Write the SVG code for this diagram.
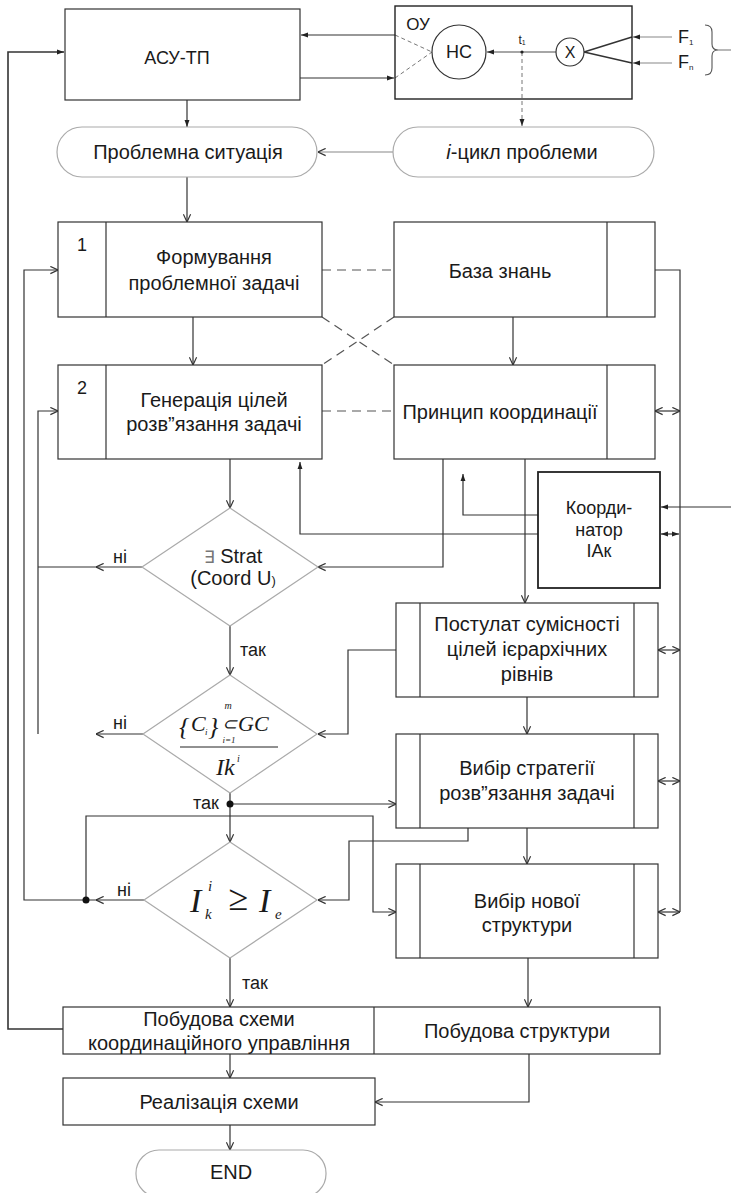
<svg xmlns="http://www.w3.org/2000/svg" width="731" height="1193" viewBox="0 0 731 1193">
<defs>
<style>
.bx{fill:#fff;stroke:#333;stroke-width:1.2}
.bk{fill:#fff;stroke:#222;stroke-width:1.8}
.gr{fill:#fff;stroke:#aaa;stroke-width:1.2}
.dv{stroke:#333;stroke-width:1.2}
.t{font-family:"Liberation Sans",Arial,sans-serif;font-size:20px;fill:#1a1a1a;text-anchor:middle}
.s{font-size:18px}
.m{font-family:"Liberation Serif","Times New Roman",serif;font-style:italic;fill:#1a1a1a}
.c{fill:none;stroke:#333;stroke-width:1.2}
.o{marker-end:url(#ao)}
.f{marker-end:url(#af)}
.dd{fill:none;stroke:#555;stroke-width:1.2;stroke-dasharray:9 6}
.ds{fill:none;stroke:#777;stroke-width:1;stroke-dasharray:4 3}
</style>
<marker id="ao" viewBox="0 0 10 10" refX="9.5" refY="5" markerWidth="9" markerHeight="9" markerUnits="userSpaceOnUse" orient="auto-start-reverse"><path d="M1,1 L9.5,5 L1,9" fill="none" stroke="#333" stroke-width="1.3"/></marker>
<marker id="af" viewBox="0 0 10 10" refX="10" refY="5" markerWidth="7" markerHeight="7" markerUnits="userSpaceOnUse" orient="auto-start-reverse"><path d="M0,1.5 L10,5 L0,8.5 z" fill="#222"/></marker>
</defs>
<rect width="731" height="1193" fill="#fff"/>

<g id="connectors">
<path class="c f" d="M395,35 H301"/>
<path class="c f" d="M300,78 H394"/>
<path class="ds" d="M395,35 L432,52 M395,78 L432,52"/>
<path class="c f" style="stroke:#888;stroke-width:1.6" d="M556,52 H487"/>
<path class="ds f" d="M522,52 V126"/>
<path class="c" style="stroke-width:1.5" d="M584,52 L632,37 M584,52 L632,63"/>
<path class="c f" style="stroke:#888" d="M672,37 H633"/>
<path class="c f" style="stroke:#888" d="M672,63 H633"/>
<path class="c" style="stroke:#888" d="M718,50 H731"/>
<path class="c f" d="M187,100 V127"/>
<path class="c f" style="stroke-width:1.6" d="M63,1029 H8 V52 H64"/>
<path class="c o" style="stroke:#888" d="M393,152 H318"/>
<path class="c o" d="M187,177 V222"/>
<path class="dd" d="M322,270 H394"/>
<path class="dd" d="M322,411 H394"/>
<path class="dd" d="M322,317 L394,365 M394,317 L322,365"/>
<path class="c o" d="M193,317 V365"/>
<path class="c o" d="M513,317 V365"/>
<path class="c" d="M655,270 H680 V912"/>
<path class="c o" style="marker-start:url(#ao)" d="M655,411 H680"/>
<path class="c o" style="marker-start:url(#ao)" d="M658,650 H680"/>
<path class="c o" style="marker-start:url(#ao)" d="M658,781 H680"/>
<path class="c o" style="marker-start:url(#ao)" d="M658,912 H680"/>
<path class="c f" d="M731,507 H661"/>
<path class="c f" style="marker-start:url(#af)" d="M661,534 H679"/>
<path class="c f" d="M538,515 H463 V474"/>
<path class="c f" d="M538,534 H300 V462"/>
<path class="c o" d="M443,459 V567 H318"/>
<path class="c o" d="M525,459 V603"/>
<path class="c o" d="M230,459 V508"/>
<path class="c o" d="M142,567 H96"/>
<path class="c" d="M97,567 H38"/>
<path class="c o" d="M143,734 H96"/>
<path class="c o" d="M38,734 V411 H58"/>
<path class="c o" d="M230,626 V675"/>
<path class="c o" d="M396,650 H348 V734 H318"/>
<path class="c o" d="M230,793 V842"/>
<path class="c o" d="M230,804 H396"/>
<path class="c o" d="M527,697 V734"/>
<path class="c o" d="M468,828 V841 H349 V900 H318"/>
<path class="c o" d="M527,828 V864"/>
<path class="c o" d="M144,900 H96"/>
<path class="c o" d="M97,900 H24 V270 H58"/>
<path class="c o" d="M86,900 V816 H373 V912 H396"/>
<circle cx="230" cy="804" r="3.5" fill="#111"/>
<circle cx="86" cy="900" r="3.5" fill="#111"/>
<path class="c o" d="M230,958 V1007"/>
<path class="c o" d="M528,958 V1007"/>
<path class="c o" d="M230,1054 V1078"/>
<path class="c o" d="M529,1054 V1102 H375"/>
<path class="c o" d="M230,1125 V1150"/>
</g>

<g id="asu">
<rect class="bx" x="65" y="9" width="235" height="91"/>
<text class="t s" x="177" y="64">АСУ-ТП</text>
</g>

<g id="ou">
<rect class="bk" style="stroke-width:1.4;fill:none" x="395" y="6" width="237" height="93"/>
<text class="t" x="418" y="30" style="font-size:17px">ОУ</text>
<circle cx="459" cy="52" r="27" fill="#fff" stroke="#333" stroke-width="1.2"/>
<text class="t s" x="459" y="58">НС</text>
<circle cx="570" cy="52" r="14" fill="#fff" stroke="#333" stroke-width="1.2"/>
<text class="t" x="570" y="58" style="font-size:16px">X</text>
<circle cx="522" cy="52" r="1.6" fill="#222"/>
<text class="t" x="522" y="44" style="font-size:12px">t<tspan font-size="7" dy="1">1</tspan></text>
</g>

<g id="inputs">
<text class="t s" x="678" y="43" style="text-anchor:start">F<tspan font-size="8" dy="2">1</tspan></text>
<text class="t s" x="678" y="68" style="text-anchor:start">F<tspan font-size="8" dy="2">n</tspan></text>
<path d="M705,25 Q712,25 712,32 L712,44 Q712,50 718,50 Q712,50 712,56 L712,68 Q712,75 705,75" fill="none" stroke="#555" stroke-width="1.1"/>
</g>

<g id="situation">
<rect class="gr" x="57" y="127" width="260" height="50" rx="25"/>
<text class="t" x="188" y="159">Проблемна ситуація</text>
</g>

<g id="icycle">
<rect class="gr" x="393" y="127" width="261" height="50" rx="25"/>
<text class="t" x="522" y="159"><tspan font-style="italic">i</tspan>-цикл проблеми</text>
</g>

<g id="box1">
<rect class="bx" x="58" y="222" width="264" height="95"/>
<line class="dv" x1="106" y1="222" x2="106" y2="317"/>
<text class="t s" x="82" y="251">1</text>
<text class="t" x="214" y="264">Формування</text>
<text class="t" x="214" y="290">проблемної задачі</text>
</g>

<g id="knowledge">
<rect class="bx" x="394" y="222" width="261" height="95"/>
<line class="dv" x1="607" y1="222" x2="607" y2="317"/>
<text class="t" x="500" y="278">База знань</text>
</g>

<g id="box2">
<rect class="bx" x="58" y="365" width="264" height="94"/>
<line class="dv" x1="106" y1="365" x2="106" y2="459"/>
<text class="t s" x="82" y="394">2</text>
<text class="t" x="214" y="407">Генерація цілей</text>
<text class="t" x="214" y="431">розв”язання задачі</text>
</g>

<g id="principle">
<rect class="bx" x="394" y="365" width="261" height="94"/>
<line class="dv" x1="607" y1="365" x2="607" y2="459"/>
<text class="t" x="500" y="419">Принцип координації</text>
</g>

<g id="coordinator">
<rect class="bk" x="538" y="472" width="122" height="116"/>
<text class="t s" x="599" y="514">Коорди-</text>
<text class="t s" x="599" y="536">натор</text>
<text class="t s" x="599" y="557">ІАк</text>
</g>

<g id="diamond1">
<polygon class="gr" points="230,508 318,567 230,626 142,567"/>
<text class="t" x="233" y="563"><tspan fill="#777" font-size="17">∃</tspan> Strat</text>
<text class="t" x="233" y="585">(Coord U<tspan font-size="13">)</tspan></text>
</g>

<g id="diamond2">
<polygon class="gr" points="230,675 317,734 230,793 143,734"/>
<text class="m" x="179" y="735" font-size="26" font-style="normal">{</text>
<text class="m" x="191" y="731" font-size="22">C</text>
<text class="m" x="205" y="735" font-size="9">i</text>
<text class="m" x="208" y="735" font-size="26" font-style="normal">}</text>
<text class="m" x="228" y="709" font-size="10" text-anchor="middle">m</text>
<text class="m" x="229" y="730" font-size="18" font-style="normal" text-anchor="middle">⊂</text>
<text class="m" x="229" y="743" font-size="9" font-style="normal" text-anchor="middle">i=1</text>
<text class="m" x="238" y="731" font-size="22">GC</text>
<line x1="180" y1="747" x2="278" y2="747" stroke="#222" stroke-width="1"/>
<text class="m" x="216" y="775" font-size="24">Ik</text>
<text class="m" x="237" y="762" font-size="10">i</text>
</g>

<g id="diamond3">
<polygon class="gr" points="230,842 317,900 230,958 144,900"/>
<text class="m" x="190" y="912" font-size="34">I</text>
<text class="m" x="208" y="891" font-size="15">i</text>
<text class="m" x="205" y="919" font-size="15">k</text>
<text class="m" x="228" y="910" font-size="36" font-style="normal">≥</text>
<text class="m" x="259" y="912" font-size="34">I</text>
<text class="m" x="275" y="919" font-size="15">e</text>
</g>

<g id="labels">
<text class="t s" x="120" y="563">ні</text>
<text class="t s" x="120" y="729">ні</text>
<text class="t s" x="124" y="896">ні</text>
<text class="t s" x="253" y="656">так</text>
<text class="t s" x="206" y="809">так</text>
<text class="t s" x="255" y="989">так</text>
</g>

<g id="postulate">
<rect class="bx" x="396" y="603" width="262" height="94"/>
<line class="dv" x1="420" y1="603" x2="420" y2="697"/>
<line class="dv" x1="634" y1="603" x2="634" y2="697"/>
<text class="t" x="527" y="631">Постулат сумісності</text>
<text class="t" x="527" y="656">цілей ієрархічних</text>
<text class="t" x="527" y="681">рівнів</text>
</g>

<g id="strategy">
<rect class="bx" x="396" y="734" width="262" height="94"/>
<line class="dv" x1="420" y1="734" x2="420" y2="828"/>
<line class="dv" x1="634" y1="734" x2="634" y2="828"/>
<text class="t" x="527" y="775">Вибір стратегії</text>
<text class="t" x="527" y="800">розв”язання задачі</text>
</g>

<g id="newstruct">
<rect class="bx" x="396" y="864" width="262" height="94"/>
<line class="dv" x1="420" y1="864" x2="420" y2="958"/>
<line class="dv" x1="634" y1="864" x2="634" y2="958"/>
<text class="t" x="527" y="908">Вибір нової</text>
<text class="t" x="527" y="932">структури</text>
</g>

<g id="build">
<rect class="bx" x="63" y="1007" width="597" height="47"/>
<line class="dv" x1="374" y1="1007" x2="374" y2="1054"/>
<text class="t" x="219" y="1026">Побудова схеми</text>
<text class="t" x="219" y="1050">координаційного управління</text>
<text class="t" x="517" y="1038">Побудова структури</text>
</g>

<g id="realize">
<rect class="bx" x="63" y="1078" width="312" height="47"/>
<text class="t" x="219" y="1109">Реалізація схеми</text>
</g>

<g id="end">
<rect class="gr" x="136" y="1150" width="190" height="47" rx="23"/>
<text class="t" x="231" y="1179">END</text>
</g>
</svg>
